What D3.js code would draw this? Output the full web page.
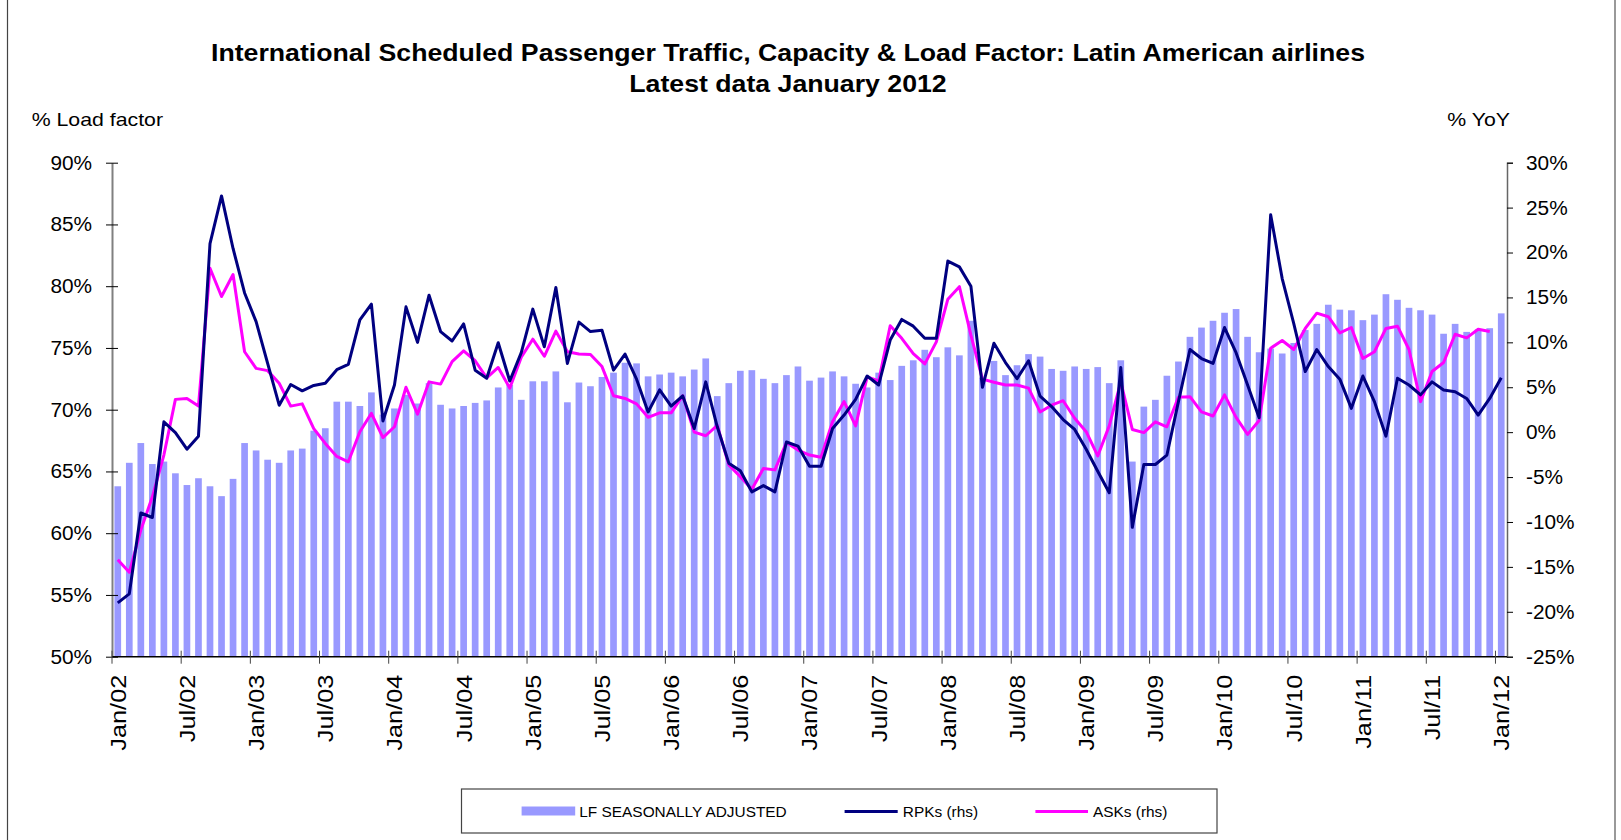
<!DOCTYPE html>
<html>
<head>
<meta charset="utf-8">
<script src="https://cdn.jsdelivr.net/npm/d3@7"></script>
<style>
  body { margin: 0; background: #fff; }
  svg { display: block; font-family: "Liberation Sans", Arial, sans-serif; }
</style>
</head>
<body>
<div id="chart"></div>
<script>
// monthly Jan/02 .. Jan/12
var monthNames = ["Jan", "Feb", "Mar", "Apr", "May", "Jun", "Jul", "Aug", "Sep", "Oct", "Nov", "Dec"];
var years = ["02", "03", "04", "05", "06", "07", "08", "09", "10", "11", "12"];
var months = [];
years.forEach(function (y) {
  monthNames.forEach(function (m) { months.push(m + "/" + y); });
});
months = months.slice(0, 121);

// % load factor, seasonally adjusted (lhs)
var lfSA = [
  63.8, 65.7, 67.3, 65.6, 65.8, 64.85, 63.9, 64.45, 63.8, 63.0, 64.4, 67.3,
  66.7, 65.95, 65.7, 66.7, 66.85, 68.3, 68.5, 70.65, 70.65, 70.3, 71.4, 69.6,
  70.1, 71.2, 70.5, 72.15, 70.4, 70.1, 70.3, 70.55, 70.75, 71.8, 72.0, 70.8,
  72.3, 72.3, 73.1, 70.6, 72.2, 71.9, 72.65, 73.0, 73.8, 73.75, 72.7, 72.85,
  73.0, 72.7, 73.25, 74.15, 71.1, 72.15, 73.15, 73.2, 72.5, 72.15, 72.8, 73.5,
  72.35, 72.6, 73.1, 72.7, 72.1, 71.8, 73.0, 72.4, 73.55, 74.0, 74.85, 74.25,
  75.05, 74.4, 77.2, 72.6, 73.95, 72.8, 73.6, 74.5, 74.3, 73.3, 73.15, 73.5,
  73.3, 73.45, 72.15, 74.0, 65.8, 70.25, 70.8, 72.75, 73.9, 75.9, 76.65, 77.2,
  77.85, 78.15, 75.9, 74.65, 74.95, 74.55, 75.4, 76.45, 76.95, 78.5, 78.1, 78.05,
  77.25, 77.7, 79.35, 78.9, 78.25, 78.05, 77.7, 76.15, 76.95, 76.3, 76.5, 76.6,
  77.8
];

// % YoY (rhs)
var rpks = [
  -19.0, -18.0, -9.0, -9.5, 1.15, -0.05, -1.9, -0.45, 21.0, 26.3, 20.45, 15.5,
  12.3, 7.65, 3.0, 5.3, 4.6, 5.2, 5.45, 6.95, 7.55, 12.5, 14.25, 1.25,
  5.25, 13.95, 10.0, 15.25, 11.2, 10.15, 12.05, 6.9, 6.0, 9.95, 5.7, 8.85,
  13.7, 9.5, 16.1, 7.65, 12.25, 11.2, 11.35, 6.9, 8.7, 5.9, 2.25, 4.7,
  2.9, 4.05, 0.4, 5.6, 0.6, -3.45, -4.3, -6.65, -5.95, -6.65, -1.1, -1.55,
  -3.8, -3.8, 0.4, 1.9, 3.65, 6.25, 5.25, 10.25, 12.55, 11.8, 10.45, 10.45,
  19.05, 18.4, 16.25, 5.0, 9.9, 7.75, 5.95, 7.95, 4.0, 2.85, 1.4, 0.3,
  -1.9, -4.35, -6.75, 7.2, -10.6, -3.6, -3.6, -2.55, 3.4, 9.2, 8.2, 7.65,
  11.65, 8.85, 5.25, 1.6, 24.2, 17.1, 12.1, 6.75, 9.2, 7.3, 5.9, 2.65,
  6.25, 3.4, -0.45, 6.0, 5.25, 4.15, 5.6, 4.7, 4.5, 3.75, 1.9, 3.75,
  6.05
];

var asks = [
  -14.2, -15.6, -10.9, -7.2, -2.55, 3.65, 3.75, 2.9, 18.25, 15.1, 17.55, 8.95,
  7.1, 6.85, 5.45, 2.9, 3.15, 0.4, -1.25, -2.7, -3.3, 0.05, 2.1, -0.6,
  0.6, 5.0, 2.0, 5.6, 5.35, 7.85, 9.05, 7.95, 6.05, 7.2, 4.9, 8.35,
  10.35, 8.45, 11.25, 8.95, 8.7, 8.65, 7.3, 4.05, 3.75, 3.15, 1.65, 2.15,
  2.15, 4.05, 0.0, -0.4, 0.75, -3.65, -4.95, -6.35, -4.05, -4.2, -1.15, -2.0,
  -2.55, -2.8, 1.15, 3.4, 0.7, 6.15, 5.7, 11.85, 10.45, 8.75, 7.6, 10.05,
  14.8, 16.2, 10.8, 5.9, 5.55, 5.25, 5.25, 4.9, 2.25, 3.0, 3.5, 1.55,
  0.05, -2.65, 0.7, 5.6, 0.3, -0.05, 1.15, 0.6, 3.9, 3.95, 2.25, 1.8,
  4.15, 1.65, -0.25, 1.3, 9.35, 10.2, 9.2, 11.55, 13.25, 12.85, 11.05, 11.65,
  8.2, 8.95, 11.55, 11.8, 9.2, 3.4, 6.75, 7.75, 10.9, 10.5, 11.45, 11.2,
  null
];

var leftTicks = [50, 55, 60, 65, 70, 75, 80, 85, 90];
var rightTicks = [-25, -20, -15, -10, -5, 0, 5, 10, 15, 20, 25, 30];
var titleLines = [
  "International Scheduled Passenger Traffic, Capacity & Load Factor: Latin American airlines",
  "Latest data January 2012"
];
var seriesNames = ["LF SEASONALLY ADJUSTED", "RPKs (rhs)", "ASKs (rhs)"];

var W = 1621, H = 840;
var plot = { left: 112, right: 1507, top: 162.7, bottom: 656.7 };

var svg = d3.select("#chart").append("svg")
  .attr("width", W)
  .attr("height", H);

// stretch text along its own direction (the source fonts are wider than Arial)
function stretch(sel, k) {
  sel.each(function () {
    var w = this.getComputedTextLength();
    d3.select(this).attr("textLength", w * k).attr("lengthAdjust", "spacingAndGlyphs");
  });
}

// outer frame
svg.append("line").attr("x1", 7.5).attr("x2", 7.5).attr("y1", 0).attr("y2", H)
  .attr("stroke", "#444").attr("stroke-width", 1.2);
svg.append("line").attr("x1", 1615).attr("x2", 1615).attr("y1", 0).attr("y2", H)
  .attr("stroke", "#777").attr("stroke-width", 1.5);

// scales
var x = d3.scaleBand().domain(months).range([plot.left, plot.right]);
var yL = d3.scaleLinear().domain([50, 90]).range([plot.bottom, plot.top]);
var yR = d3.scaleLinear().domain([-25, 30]).range([plot.bottom, plot.top]);
var barW = x.bandwidth() * 0.58;
var cx = function (i) { return x(months[i]) + x.bandwidth() / 2; };

// bars
svg.append("g")
  .selectAll("rect")
  .data(lfSA)
  .enter()
  .append("rect")
  .attr("x", function (d, i) { return cx(i) - barW / 2; })
  .attr("y", function (d) { return yL(d); })
  .attr("width", barW)
  .attr("height", function (d) { return yL(50) - yL(d); })
  .attr("fill", "#9999ff");

// lines
var line = d3.line()
  .defined(function (d) { return d != null; })
  .x(function (d, i) { return cx(i); })
  .y(function (d) { return yR(d); });

svg.append("path").datum(asks)
  .attr("d", line)
  .attr("fill", "none")
  .attr("stroke", "#ff00ff")
  .attr("stroke-width", 3)
  .attr("stroke-linejoin", "round");

svg.append("path").datum(rpks)
  .attr("d", line)
  .attr("fill", "none")
  .attr("stroke", "#000080")
  .attr("stroke-width", 3)
  .attr("stroke-linejoin", "round");

// left axis
var gL = svg.append("g")
  .attr("transform", "translate(" + plot.left + ",0)")
  .call(d3.axisLeft(yL).tickValues(leftTicks).tickSize(0).tickPadding(20)
    .tickFormat(function (d) { return d + "%"; }));
gL.select(".domain").attr("stroke", "#808080").attr("stroke-width", 2);
gL.selectAll(".tick").append("line")
  .attr("x1", -6).attr("x2", 6).attr("stroke", "#000");
gL.selectAll("text").attr("font-size", 20).attr("fill", "#000")
  .attr("font-family", "Liberation Sans, Arial, sans-serif");
stretch(gL.selectAll("text"), 1.04);

// right axis
var gR = svg.append("g")
  .attr("transform", "translate(" + plot.right + ",0)")
  .call(d3.axisRight(yR).tickValues(rightTicks).tickSize(6).tickPadding(13)
    .tickFormat(function (d) { return d + "%"; }));
gR.select(".domain").attr("stroke", "#666").attr("stroke-width", 1.5);
gR.selectAll(".tick line").attr("stroke", "#000");
gR.selectAll("text").attr("font-size", 20).attr("fill", "#000")
  .attr("font-family", "Liberation Sans, Arial, sans-serif");
stretch(gR.selectAll("text"), 1.04);

// x axis
var gX = svg.append("g");
gX.append("line")
  .attr("x1", plot.left).attr("x2", plot.right)
  .attr("y1", plot.bottom).attr("y2", plot.bottom)
  .attr("stroke", "#000").attr("stroke-width", 1.5);
var tickIdx = d3.range(0, 121, 6);
gX.selectAll(".xt")
  .data(tickIdx)
  .enter()
  .append("line")
  .attr("class", "xt")
  .attr("x1", function (i) { return x(months[i]); })
  .attr("x2", function (i) { return x(months[i]); })
  .attr("y1", plot.bottom - 6)
  .attr("y2", plot.bottom + 7)
  .attr("stroke", "#444");
var xLabels = gX.selectAll(".xl")
  .data(tickIdx)
  .enter()
  .append("text")
  .attr("class", "xl")
  .attr("transform", function (i) { return "translate(" + cx(i) + "," + (plot.bottom + 18) + ") rotate(-90)"; })
  .attr("text-anchor", "end")
  .attr("dy", "0.36em")
  .attr("font-size", 22)
  .text(function (i) { return months[i]; });
stretch(xLabels, 1.15);

// axis titles
var tL = svg.append("text").attr("x", 31.7).attr("y", 126)
  .attr("font-size", 19).text("% Load factor");
stretch(tL, 1.12);
var tR = svg.append("text").attr("x", 1510).attr("y", 126)
  .attr("text-anchor", "end").attr("font-size", 19).text("% YoY");
stretch(tR, 1.12);

// title
var title = svg.selectAll(".title")
  .data(titleLines)
  .enter()
  .append("text")
  .attr("class", "title")
  .attr("x", 788)
  .attr("y", function (d, i) { return 61 + i * 31; })
  .attr("text-anchor", "middle")
  .attr("font-size", 24)
  .attr("font-weight", "bold")
  .text(function (d) { return d; });
var kTitle = 1154 / title.node().getComputedTextLength();
stretch(title, kTitle);

// legend
var lg = svg.append("g");
lg.append("rect")
  .attr("x", 461.5).attr("y", 789).attr("width", 755.5).attr("height", 44)
  .attr("fill", "#fff").attr("stroke", "#444").attr("stroke-width", 1.2);
lg.append("rect")
  .attr("x", 521.6).attr("y", 806.5).attr("width", 53.6).attr("height", 9)
  .attr("fill", "#9999ff");
lg.append("line").attr("x1", 844.6).attr("x2", 897.7).attr("y1", 811.5).attr("y2", 811.5)
  .attr("stroke", "#000080").attr("stroke-width", 3);
lg.append("line").attr("x1", 1035.4).attr("x2", 1088).attr("y1", 811.5).attr("y2", 811.5)
  .attr("stroke", "#ff00ff").attr("stroke-width", 3);
var legX = [579.3, 902.8, 1093];
var legText = lg.selectAll(".lt")
  .data(seriesNames)
  .enter()
  .append("text")
  .attr("class", "lt")
  .attr("x", function (d, i) { return legX[i]; })
  .attr("y", 816.5)
  .attr("font-size", 14)
  .text(function (d) { return d; });
stretch(legText, 1.1);
</script>
</body>
</html>
